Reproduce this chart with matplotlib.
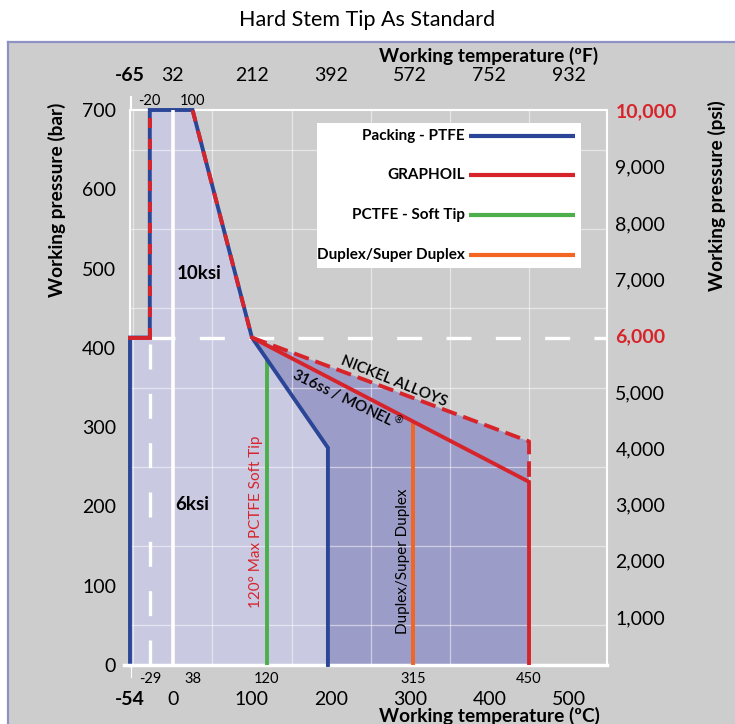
import matplotlib
matplotlib.use('Agg')
import matplotlib.pyplot as plt
from matplotlib.patches import Rectangle
from matplotlib.lines import Line2D
from matplotlib.ticker import MultipleLocator

plt.rcParams['font.family'] = ['Lato', 'DejaVu Sans']

# ---------------- data ----------------
# PTFE packing envelope (temperature degC, pressure bar)
ptfe_t = [-54, -54, -29, -29, 25, 100, 196, 196]
ptfe_p = [0, 413, 413, 700, 700, 413, 274, 0]
# GRAPHOIL / 316ss-MONEL envelope
graphoil_t = [-54, -29, -29, 25, 100, 450, 450]
graphoil_p = [413, 413, 700, 700, 413, 231, 0]
# Nickel alloys (dashed)
nickel_t = [100, 450, 450]
nickel_p = [413, 282, 231]
# PCTFE soft tip limit
pctfe_t = [119, 119]
pctfe_p = [0, 384]
# Duplex / Super duplex limit
duplex_t = [304, 304]
duplex_p = [0, 305]

rated_p = 413          # 6,000 psi line (bar)
low_t = -29            # low temperature dashed line

c_ticks = [-54, 0, 100, 200, 300, 400, 500]
c_tick_labels = ['-54', '0', '100', '200', '300', '400', '500']
f_ticks = [-65, 32, 212, 392, 572, 752, 932]
f_tick_labels = ['-65', '32', '212', '392', '572', '752', '932']
c_marks = [-29, 25, 119, 304, 450]
c_mark_labels = ['-29', '38', '120', '315', '450']
f_marks = [-29, 25]
f_mark_labels = ['-20', '100']
bar_ticks = [0, 100, 200, 300, 400, 500, 600, 700]
psi_ticks = [1000, 2000, 3000, 4000, 5000, 6000, 7000, 8000, 9000, 10000]

legend_labels = ['Packing - PTFE', 'GRAPHOIL', 'PCTFE - Soft Tip', 'Duplex/Super Duplex']

# ---------------- style ----------------
BLUE = '#2b4597'
RED = '#d7242b'
GREEN = '#4caf4a'
ORANGE = '#f26522'
LIGHT = '#c9c9e2'
DARK = '#9c9cc8'
GREY = '#cdcdcd'
BORDER = '#8f90c4'
LW = 2.8
TICK_FS = 14
LAB_FS = 13.8

W, H = 735, 724
fig = plt.figure(figsize=(W / 100, H / 100), dpi=100)
fig.patch.set_facecolor('white')

# grey panel with border on top and left
py_top = 1 - 42 / H
px_left = 8 / W
fig.patches.append(Rectangle((px_left, 0), 1 - px_left, py_top, transform=fig.transFigure,
                             facecolor=GREY, edgecolor='none', zorder=-2))
fig.lines.append(Line2D([px_left, 1], [py_top, py_top], transform=fig.transFigure,
                        color=BORDER, lw=1.6, zorder=-1))
fig.lines.append(Line2D([px_left, px_left], [0, py_top], transform=fig.transFigure,
                        color=BORDER, lw=1.6, zorder=-1))

ax_l, ax_r, ax_t, ax_b = 130, 607, 110, 665
ax = fig.add_axes([ax_l / W, 1 - ax_b / H, (ax_r - ax_l) / W, (ax_b - ax_t) / H])
ax.set_facecolor(GREY)
ax.set_xlim(-53, 548.5)
ax.set_ylim(0, 700)

# grid every 50
ax.xaxis.set_minor_locator(MultipleLocator(50))
ax.yaxis.set_minor_locator(MultipleLocator(50))
ax.set_axisbelow('line')
ax.grid(which='minor', color='white', alpha=0.5, lw=0.9)
ax.grid(which='major', visible=False)
ax.tick_params(which='both', length=0)

for s in ax.spines.values():
    s.set_color('white')
    s.set_linewidth(1.5)
ax.spines['bottom'].set_linewidth(2.5)

# fills
ax.fill(ptfe_t, ptfe_p, color=LIGHT, lw=0, zorder=1)
dark_t = nickel_t[:2] + [graphoil_t[-1]] + ptfe_t[:-3:-1]
dark_p = nickel_p[:2] + [graphoil_p[-1]] + ptfe_p[:-3:-1]
ax.fill(dark_t, dark_p, color=DARK, lw=0, zorder=1)

# white reference lines
ax.plot([low_t, low_t], [0, rated_p], color='white', lw=2.4, dashes=(7.5, 7.3), zorder=2)
ax.plot([low_t, 548.5], [rated_p, rated_p], color='white', lw=2.4, dashes=(7.5, 7.3), zorder=2)

# PTFE envelope
ax.plot(ptfe_t, ptfe_p, color=BLUE, lw=LW, solid_joinstyle='miter', zorder=3, clip_on=False)
# GRAPHOIL envelope
ax.plot(graphoil_t[0:2], graphoil_p[0:2], color=RED, lw=LW, zorder=3.2, clip_on=False)
ax.plot(graphoil_t[1:3], graphoil_p[1:3], color=RED, lw=LW, dashes=(2.6, 2.8), zorder=3.2)
ax.plot(graphoil_t[3:5], graphoil_p[3:5], color=RED, lw=LW, dashes=(3.0, 2.5), zorder=3.2)
ax.plot(graphoil_t[4:], graphoil_p[4:], color=RED, lw=LW, solid_joinstyle='miter', zorder=3.2)
# Nickel alloys
ax.plot(nickel_t, nickel_p, color=RED, lw=LW, dashes=(4.0, 1.8), zorder=3.1)
# PCTFE and duplex
ax.plot(pctfe_t, pctfe_p, color=GREEN, lw=LW, zorder=2.9)
ax.plot(duplex_t, duplex_p, color=ORANGE, lw=LW, zorder=2.9)

# white 0 degC line
ax.plot([0, 0], [0, 700], color='white', lw=2.6, zorder=4)

# spine extensions
ax.plot([-61.8, -53], [0, 0], color='white', lw=2.5, clip_on=False, zorder=4)
ax.plot([-53, -53], [0, -15], color='white', lw=0.8, clip_on=False, zorder=4)
ax.plot([-53, -53], [700, 717], color='white', lw=1.5, clip_on=False, zorder=4)

# ---------------- axes labels ----------------
ax.set_xticks(c_ticks)
ax.set_xticklabels(c_tick_labels, fontsize=TICK_FS)
ax.tick_params(axis='x', pad=19)
ax.get_xticklabels()[0].set_fontweight('bold')
ax.set_yticks(bar_ticks)
ax.set_yticklabels([str(v) for v in bar_ticks], fontsize=TICK_FS)
ax.tick_params(axis='y', pad=10)

xt = ax.get_xaxis_transform()
for t, lab in zip(c_marks, c_mark_labels):
    ax.text(t, -0.0255, lab, transform=xt, ha='center', va='center', fontsize=10.5)
for t, lab in zip(f_marks, f_mark_labels):
    ax.text(t, 1.016, lab, transform=xt, ha='center', va='center', fontsize=10.5)

sec = ax.secondary_xaxis('top', functions=(lambda c: c * 9 / 5 + 32, lambda f: (f - 32) * 5 / 9))
sec.set_xticks(f_ticks)
sec.set_xticklabels(f_tick_labels, fontsize=TICK_FS)
sec.tick_params(length=0, pad=19)
sec.spines['top'].set_visible(False)
sec.get_xticklabels()[0].set_fontweight('bold')

ax2 = ax.twinx()
ax2.set_ylim(150, 10010)
ax2.set_yticks(psi_ticks)
ax2.set_yticklabels([f'{v:,}' for v in psi_ticks], fontsize=TICK_FS)
ax2.tick_params(length=0, pad=6)
for s in ax2.spines.values():
    s.set_visible(False)
for lab, v in zip(ax2.get_yticklabels(), psi_ticks):
    if v in (6000, 10000):
        lab.set_color(RED)
        lab.set_fontweight('bold')

fig.text(0.5, 1 - 20 / H, 'Hard Stem Tip As Standard', ha='center', va='center', fontsize=15.5)
fig.text(489 / W, 1 - 56 / H, 'Working temperature (ºF)', ha='center', va='center',
         fontsize=LAB_FS, fontweight='bold')
fig.text(489 / W, 1 - 716 / H, 'Working temperature (ºC)', ha='center', va='center',
         fontsize=LAB_FS, fontweight='bold')
fig.text(57 / W, 1 - 200 / H, 'Working pressure (bar)', ha='center', va='center',
         rotation=90, fontsize=LAB_FS, fontweight='bold')
fig.text(717 / W, 1 - 196 / H, 'Working pressure (psi)', ha='center', va='center',
         rotation=90, fontsize=LAB_FS, fontweight='bold')

# ---------------- annotations ----------------
ax.text(33, 494, '10ksi', ha='center', va='center', fontsize=13.5, fontweight='bold', zorder=5)
ax.text(25, 203, '6ksi', ha='center', va='center', fontsize=13.5, fontweight='bold', zorder=5)
ax.text(105, 180, '120° Max PCTFE Soft Tip', ha='center', va='center', rotation=90,
        fontsize=11, color=RED, zorder=5)
ax.text(291, 131, 'Duplex/Super Duplex', ha='center', va='center', rotation=90,
        fontsize=11, color='black', zorder=5)
ax.text(279, 357, 'NICKEL ALLOYS', ha='center', va='center', rotation=-22,
        rotation_mode='anchor', fontsize=11, fontweight='semibold', zorder=5)
ax.text(221, 336, '316ss / MONEL$^{®}$', ha='center', va='center', rotation=-26,
        rotation_mode='anchor', fontsize=11, fontweight='semibold', zorder=5)

# ---------------- legend box ----------------
def fx(px):
    return (px - ax_l) / (ax_r - ax_l)

def fy(py):
    return (ax_b - py) / (ax_b - ax_t)

ax.add_patch(Rectangle((fx(317), fy(268)), fx(581) - fx(317), fy(123) - fy(268),
                       transform=ax.transAxes, facecolor='white', edgecolor='none', zorder=6))
for lab, col, py in zip(legend_labels, [BLUE, RED, GREEN, ORANGE], [136, 175, 215, 255]):
    ax.text(fx(465), fy(py), lab, transform=ax.transAxes, ha='right', va='center',
            fontsize=11, fontweight='bold', zorder=7)
    ax.plot([fx(469), fx(575)], [fy(py), fy(py)], transform=ax.transAxes, color=col,
            lw=3.0, solid_capstyle='butt', zorder=7)

fig.savefig('out.png', dpi=100)
